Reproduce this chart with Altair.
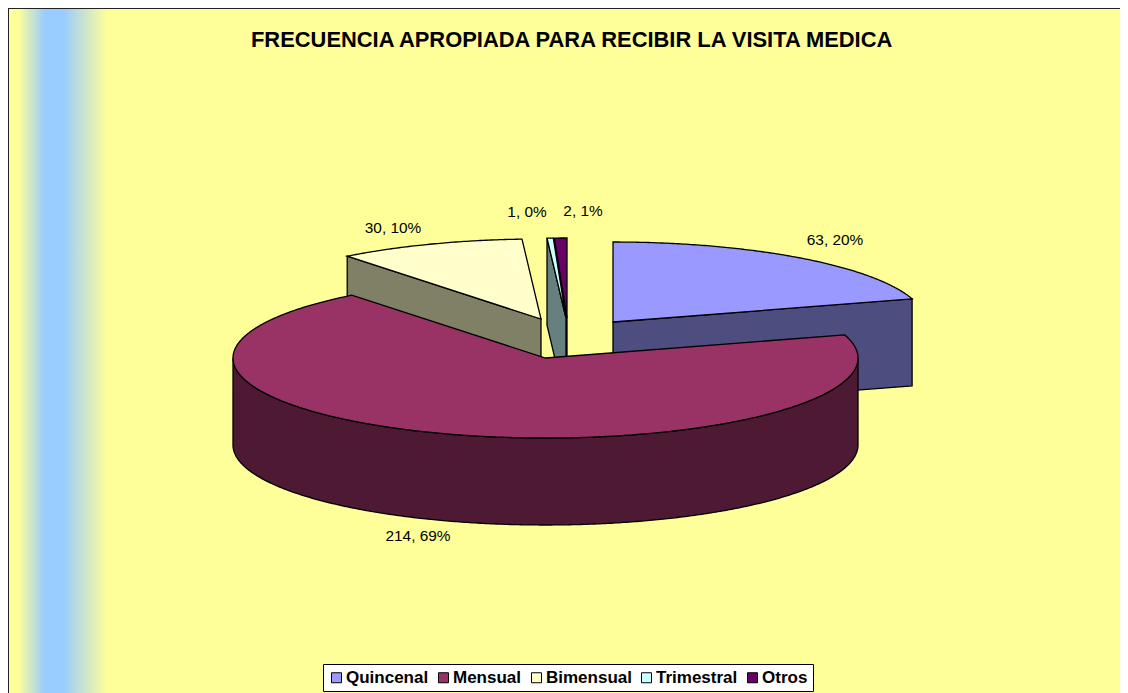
import math
import altair as alt

TITLE = "FRECUENCIA APROPIADA PARA RECIBIR LA VISITA MEDICA"
categories = ["Quincenal", "Mensual", "Bimensual", "Trimestral", "Otros"]
values = [63, 214, 30, 1, 2]
percents = [20, 69, 10, 0, 1]
top_colors = ["#9999FF", "#993366", "#FFFFCC", "#CCFFFF", "#660066"]
wall_colors = ["#4D4D80", "#4D1933", "#808066", "#668080", "#330033"]

# layout (chart pixels = page pixels - 8)
W, H = 1112, 685
RX, RY, DEPTH = 312.5, 80, 87
LINE = 1.3
centers = {
    "Quincenal": (605, 314),
    "Mensual": (537.5, 350),
    "Bimensual": (533, 311),
    "Trimestral": (558, 310),
    "Otros": (559, 310),
}
label_pos = {
    "Quincenal": (827, 232),
    "Mensual": (410, 528),
    "Bimensual": (385, 220),
    "Trimestral": (519, 204),
    "Otros": (575, 203),
}

total = sum(values)
angles = {}
acc = 0
for c, v in zip(categories, values):
    angles[c] = (acc / total * 360, (acc + v) / total * 360)
    acc += v


def rim(cat, a0, a1, dz=0):
    cx, cy = centers[cat]
    n = max(2, int(abs(a1 - a0)) * 2)
    pts = []
    for i in range(n + 1):
        a = math.radians(a0 + (a1 - a0) * i / n)
        pts.append([cx + RX * math.sin(a), cy - RY * math.cos(a) + dz])
    return pts


def feature(cat, pts):
    return {
        "type": "Feature",
        "geometry": {"type": "Polygon", "coordinates": [pts + [pts[0]]]},
        "properties": {"cat": cat},
    }


def top_shape(cat):
    a0, a1 = angles[cat]
    return feature(cat, [list(centers[cat])] + rim(cat, a0, a1))


def cut_wall(cat, a):
    cx, cy = centers[cat]
    p = rim(cat, a, a)[0]
    return feature(cat, [[cx, cy], p, [p[0], p[1] + DEPTH], [cx, cy + DEPTH]])


def outer_wall(cat, a0, a1):
    up = rim(cat, a0, a1)
    down = rim(cat, a0, a1, DEPTH)
    return feature(cat, up + down[::-1])


PROJ = dict(type="identity", scale=1, translate=[0, 0])
color_scale = alt.Scale(domain=categories, range=top_colors)


def wall_layer(shape, colour):
    return (
        alt.Chart(alt.Data(values=[shape]))
        .mark_geoshape(stroke="black", strokeWidth=LINE, fill=colour)
        .project(**PROJ)
    )


def top_layer(cat):
    return (
        alt.Chart(alt.Data(values=[top_shape(cat)]))
        .mark_geoshape(stroke="black", strokeWidth=LINE)
        .encode(
            color=alt.Color(
                "properties.cat:N",
                scale=color_scale,
                legend=alt.Legend(
                    title=None,
                    orient="none",
                    legendX=315,
                    legendY=656,
                    direction="horizontal",
                    columns=5,
                    fillColor="white",
                    strokeColor="black",
                    padding=5,
                    symbolType="square",
                    symbolSize=100,
                    symbolStrokeColor="black",
                    symbolStrokeWidth=1,
                    labelFont="Liberation Sans",
                    labelFontSize=17,
                    labelFontWeight="bold",
                    labelColor="black",
                    labelOffset=1,
                    columnPadding=6,
                    labelLimit=200,
                ),
            )
        )
        .project(**PROJ)
    )


wall = dict(zip(categories, wall_colors))
layers = []

# gradient band
band = (
    alt.Chart(alt.Data(values=[{"a": 1}]))
    .mark_rect(
        color=alt.Gradient(
            gradient="linear",
            x1=0, x2=1, y1=0, y2=0,
            stops=[
                alt.GradientStop(offset=0, color="#FFFF99"),
                alt.GradientStop(offset=0.1, color="#FFFF99"),
                alt.GradientStop(offset=0.37, color="#99CCFF"),
                alt.GradientStop(offset=0.55, color="#99CCFF"),
                alt.GradientStop(offset=1, color="#FFFF99"),
            ],
        )
    )
    .encode(x=alt.value(0), x2=alt.value(100), y=alt.value(0), y2=alt.value(H))
)
layers.append(band)

# back pieces
layers.append(wall_layer(cut_wall("Quincenal", angles["Quincenal"][1]), wall["Quincenal"]))
layers.append(top_layer("Quincenal"))
layers.append(wall_layer(cut_wall("Bimensual", angles["Bimensual"][0]), wall["Bimensual"]))
layers.append(top_layer("Bimensual"))
layers.append(wall_layer(cut_wall("Otros", angles["Otros"][0]), wall["Otros"]))
layers.append(top_layer("Otros"))
layers.append(wall_layer(cut_wall("Trimestral", angles["Trimestral"][0]), wall["Trimestral"]))
layers.append(top_layer("Trimestral"))
# front piece
layers.append(wall_layer(outer_wall("Mensual", 90, 270), wall["Mensual"]))
layers.append(top_layer("Mensual"))

# value labels
label_rows = [
    {
        "txt": f"{v}, {p}%",
        "px": label_pos[c][0],
        "py": label_pos[c][1],
    }
    for c, v, p in zip(categories, values, percents)
]
labels = (
    alt.Chart(alt.Data(values=label_rows))
    .mark_text(font="Liberation Sans", fontSize=15.4, color="black", align="center", baseline="middle")
    .encode(
        x=alt.X("px:Q", scale=None),
        y=alt.Y("py:Q", scale=None),
        text="txt:N",
    )
)
layers.append(labels)

# left and top border
border_rows = [{"a": 1}]
left = alt.Chart(alt.Data(values=border_rows)).mark_rule(color="#222222", strokeWidth=2).encode(
    x=alt.value(0), y=alt.value(0), y2=alt.value(H)
)
top = alt.Chart(alt.Data(values=border_rows)).mark_rule(color="#222222", strokeWidth=2).encode(
    x=alt.value(0), x2=alt.value(W), y=alt.value(0)
)
layers += [left, top]

chart = (
    alt.layer(*layers)
    .properties(
        width=W,
        height=H,
        padding=0,
        background="#FFFF99",
        autosize=alt.AutoSizeParams(type="none"),
        title=alt.TitleParams(
            TITLE,
            font="Liberation Sans",
            fontSize=21.9,
            fontWeight="bold",
            color="black",
            anchor="start",
            frame="group",
            baseline="middle",
            dx=243,
            dy=55,
            offset=0,
        ),
    )
    .configure_view(stroke=None)
)

chart.save("out.html", embed_options={"renderer": "svg", "actions": False})
